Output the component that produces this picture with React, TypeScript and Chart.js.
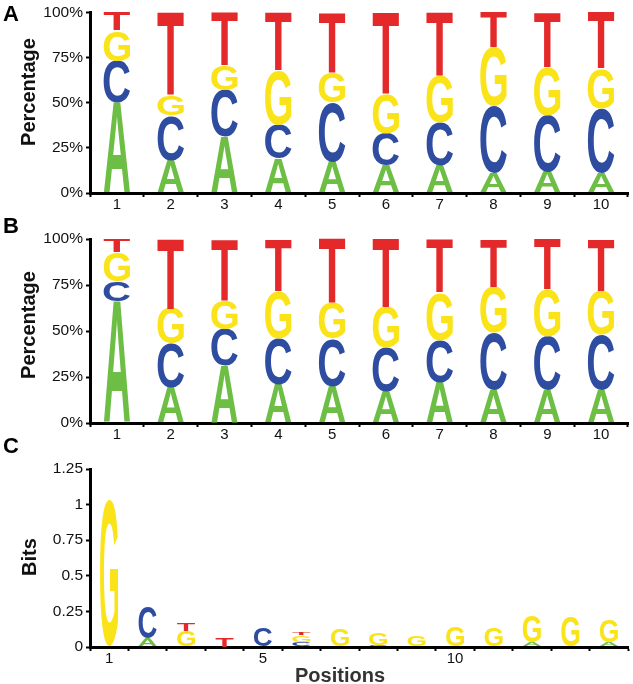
import React, { useEffect, useRef } from 'react';
import { Chart, registerables } from 'chart.js';

Chart.register(...registerables);

const FONT = '"Liberation Sans", Arial, Helvetica, sans-serif';

const bases = ['A', 'C', 'G', 'T'];
const baseColors = ['#6DBE45', '#2F4DA0', '#FAE318', '#E3292A'];

// Panel A (percent)
const positionsAB = ['1', '2', '3', '4', '5', '6', '7', '8', '9', '10'];
const pctA_A = [50, 18, 31, 19, 17, 15, 15, 11, 12, 11];
const pctA_C = [23, 25, 26, 19, 33, 18, 24, 37, 31, 36];
const pctA_G = [17, 11, 14, 30, 17, 22, 26, 33, 27, 22];
const pctA_T = [10, 46, 29, 32, 33, 45, 35, 19, 30, 31];

// Panel B (percent)
const pctB_A = [66, 19, 31, 21, 20, 17, 22, 18, 18, 18];
const pctB_C = [11, 24, 20, 25, 26, 24, 23, 31, 29, 30];
const pctB_G = [16, 19, 16, 26, 19, 22, 26, 25, 26, 24];
const pctB_T = [7, 38, 33, 28, 35, 37, 29, 26, 27, 28];

// Panel C (bits)
const positionsC = ['1', '2', '3', '4', '5', '6', '7', '8', '9', '10', '11', '12', '13', '14'];
const shownPositionsC = ['1', '5', '10'];
const bitsC_A = [0, 0.06, 0, 0, 0, 0, 0, 0, 0, 0, 0, 0.03, 0, 0.03];
const bitsC_C = [0, 0.22, 0, 0, 0.13, 0.035, 0, 0.01, 0, 0, 0, 0, 0, 0];
const bitsC_G = [1.03, 0, 0.11, 0, 0, 0.05, 0.12, 0.08, 0.08, 0.14, 0.13, 0.18, 0.22, 0.16];
const bitsC_T = [0, 0, 0.05, 0.07, 0, 0.015, 0, 0, 0, 0, 0, 0, 0, 0];

const percentTicks = [0, 25, 50, 75, 100];
const bitsTicks = [0, 0.25, 0.5, 0.75, 1, 1.25];

const letterPlugin = {
  id: 'logoLetters',
  afterDatasetsDraw(chart: any) {
    const ctx = chart.ctx as CanvasRenderingContext2D;
    chart.data.datasets.forEach((ds: any, di: number) => {
      const meta = chart.getDatasetMeta(di);
      if (meta.hidden) return;
      meta.data.forEach((el: any) => {
        const p = el.getProps(['x', 'y', 'base', 'width'], true);
        const top = Math.min(p.y, p.base);
        const h = Math.abs(p.base - p.y);
        if (!(h > 0.3)) return;
        ctx.save();
        ctx.font = `bold 200px ${FONT}`;
        ctx.textAlign = 'left';
        ctx.textBaseline = 'alphabetic';
        const m = ctx.measureText(ds.label);
        const gw = m.actualBoundingBoxLeft + m.actualBoundingBoxRight;
        const gh = m.actualBoundingBoxAscent + m.actualBoundingBoxDescent;
        ctx.translate(p.x - p.width / 2, top);
        ctx.scale(p.width / gw, h / gh);
        ctx.fillStyle = ds.letterColor;
        ctx.fillText(ds.label, m.actualBoundingBoxLeft, m.actualBoundingBoxAscent);
        ctx.restore();
      });
    });
  },
};

type PanelProps = {
  top: number;
  height: number;
  labels: string[];
  series: number[][];
  yMax: number;
  yTicks: number[];
  yFormat: (v: number) => string;
  padTop: number;
  xHeight: number;
  barPct: number;
  xLabel: (l: string) => string;
};

function LogoPanel(props: PanelProps) {
  const ref = useRef<HTMLCanvasElement>(null);
  useEffect(() => {
    const canvas = ref.current!;
    const chart = new Chart(canvas, {
      type: 'bar',
      data: {
        labels: props.labels,
        datasets: bases.map((b, i) => ({
          label: b,
          data: props.series[i],
          backgroundColor: 'rgba(0,0,0,0)',
          borderWidth: 0,
          barPercentage: props.barPct,
          categoryPercentage: 1,
          letterColor: baseColors[i],
        })) as any,
      },
      options: {
        animation: false,
        responsive: false,
        devicePixelRatio: 1,
        layout: { padding: { top: props.padTop, right: 5, left: 0, bottom: 0 } },
        plugins: { legend: { display: false }, tooltip: { enabled: false } },
        scales: {
          x: {
            stacked: true,
            offset: true,
            afterFit: (s: any) => { s.height = props.xHeight; },
            grid: {
              offset: true,
              drawOnChartArea: false,
              drawTicks: true,
              tickLength: 4,
              tickWidth: 2,
              tickColor: '#000',
            },
            border: { display: true, color: '#000', width: 3 },
            ticks: {
              autoSkip: false,
              maxRotation: 0,
              padding: -1,
              color: '#111',
              font: { family: FONT, size: 15 },
              callback: function (this: any, v: any) {
                return props.xLabel(this.getLabelForValue(v));
              },
            },
          },
          y: {
            stacked: true,
            min: 0,
            max: props.yMax,
            afterFit: (s: any) => { s.width = 90; },
            afterBuildTicks: (s: any) => { s.ticks = props.yTicks.map((v) => ({ value: v })); },
            grid: {
              drawOnChartArea: false,
              drawTicks: true,
              tickLength: 4,
              tickWidth: 2,
              tickColor: '#000',
            },
            border: { display: true, color: '#000', width: 3 },
            ticks: {
              padding: 3,
              color: '#111',
              font: { family: FONT, size: 15.5 },
              callback: (v: any) => props.yFormat(Number(v)),
            },
          },
        },
      } as any,
      plugins: [letterPlugin],
    });
    return () => chart.destroy();
  }, []);
  return (
    <canvas
      ref={ref}
      width={633}
      height={props.height}
      style={{ position: 'absolute', left: 0, top: props.top, width: 633, height: props.height }}
    />
  );
}

const panelLetterStyle: React.CSSProperties = {
  position: 'absolute',
  left: 3,
  fontFamily: FONT,
  fontWeight: 'bold',
  fontSize: 22,
  lineHeight: '22px',
  color: '#000',
};

const yTitleStyle: React.CSSProperties = {
  position: 'absolute',
  fontFamily: FONT,
  fontWeight: 'bold',
  fontSize: 20,
  lineHeight: '20px',
  color: '#111',
  whiteSpace: 'nowrap',
  transform: 'translate(-50%, -50%) rotate(-90deg)',
};

export default function App() {
  const pctFmt = (v: number) => `${v}%`;
  const bitsFmt = (v: number) => `${v}`;
  return (
    <div style={{ position: 'fixed', left: 0, top: 0, width: 633, height: 684, background: '#fff', overflow: 'hidden' }}>
      <LogoPanel
        top={0}
        height={215}
        labels={positionsAB}
        series={[pctA_A, pctA_C, pctA_G, pctA_T]}
        yMax={100}
        yTicks={percentTicks}
        yFormat={pctFmt}
        padTop={11}
        xHeight={22}
        barPct={0.49}
        xLabel={(l) => l}
      />
      <LogoPanel
        top={215}
        height={225}
        labels={positionsAB}
        series={[pctB_A, pctB_C, pctB_G, pctB_T]}
        yMax={100}
        yTicks={percentTicks}
        yFormat={pctFmt}
        padTop={24}
        xHeight={17}
        barPct={0.49}
        xLabel={(l) => l}
      />
      <LogoPanel
        top={440}
        height={244}
        labels={positionsC}
        series={[bitsC_A, bitsC_C, bitsC_G, bitsC_T]}
        yMax={1.25}
        yTicks={bitsTicks}
        yFormat={bitsFmt}
        padTop={29}
        xHeight={37}
        barPct={0.47}
        xLabel={(l) => (shownPositionsC.includes(l) ? l : '')}
      />
      <div style={{ ...panelLetterStyle, top: 3 }}>A</div>
      <div style={{ ...panelLetterStyle, top: 215 }}>B</div>
      <div style={{ ...panelLetterStyle, top: 435 }}>C</div>
      <div style={{ ...yTitleStyle, left: 28, top: 92 }}>Percentage</div>
      <div style={{ ...yTitleStyle, left: 28, top: 325 }}>Percentage</div>
      <div style={{ ...yTitleStyle, left: 29, top: 557 }}>Bits</div>
      <div
        style={{
          position: 'absolute',
          left: 295,
          top: 664,
          fontFamily: FONT,
          fontWeight: 'bold',
          fontSize: 20,
          lineHeight: '22px',
          color: '#333',
        }}
      >
        Positions
      </div>
    </div>
  );
}
